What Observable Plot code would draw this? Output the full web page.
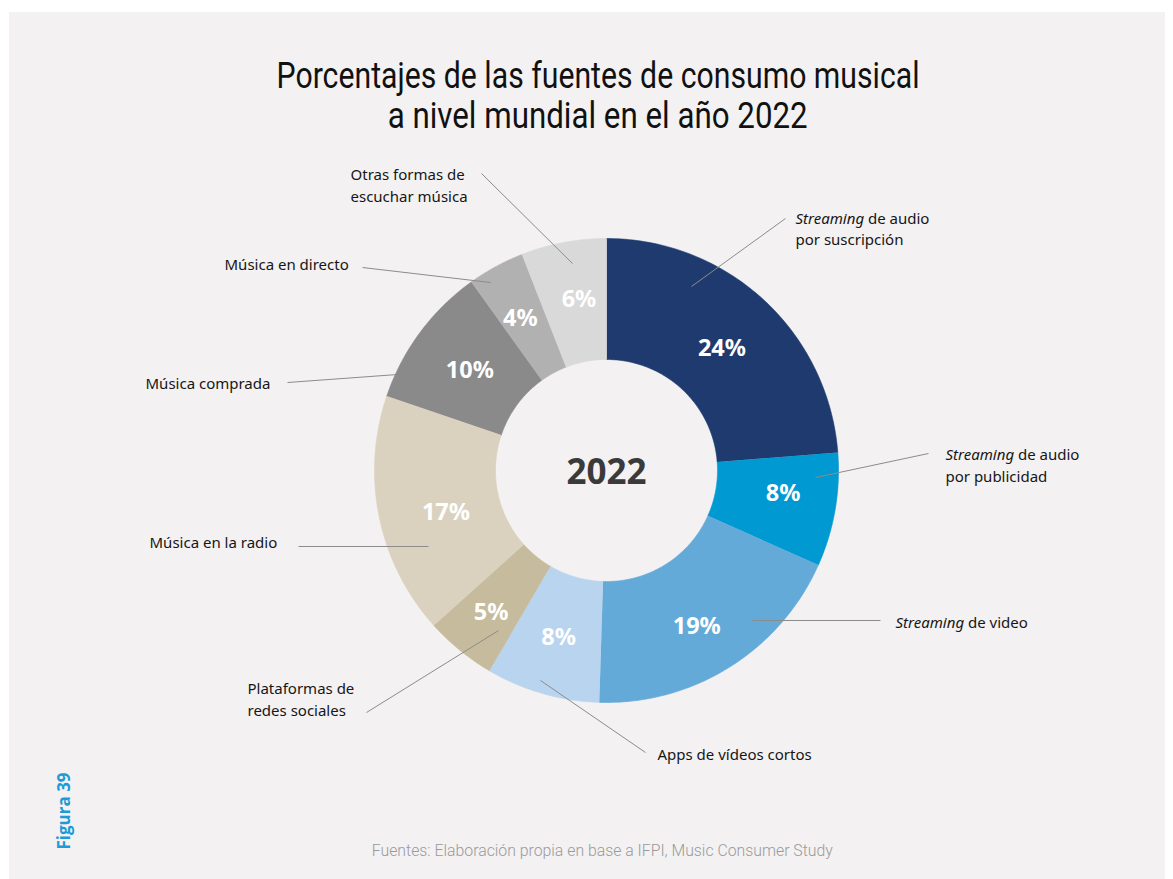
<!DOCTYPE html>
<html><head><meta charset="utf-8">
<script src="https://cdn.jsdelivr.net/npm/d3@7"></script>
<script src="https://cdn.jsdelivr.net/npm/@observablehq/plot@0.6"></script>
<style>
html,body{margin:0;padding:0;background:#fff;}
#page{position:relative;width:1173px;height:879px;overflow:hidden;}
#panel{position:absolute;left:9px;top:12px;width:1156px;height:867px;background:#f3f1f2;}
#title{position:absolute;left:0;width:1196px;top:56px;text-align:center;font-family:Roboto,"Noto Sans",sans-serif;font-weight:400;font-size:36px;line-height:40px;color:#111;}
#title span{display:inline-block;white-space:nowrap;transform-origin:50% 50%;}
#chart{position:absolute;left:0;top:140px;}
#fig{position:absolute;left:63px;top:811px;transform:translate(-50%,-50%) rotate(-90deg);font-family:"Open Sans","Noto Sans",sans-serif;font-weight:700;font-size:17px;color:#1b9bd7;white-space:nowrap;}
#source{position:absolute;left:0;width:1204px;top:841px;text-align:center;font-family:Roboto,"Noto Sans",sans-serif;font-weight:300;font-size:16px;line-height:20px;color:#9a9a9a;}
#source span{display:inline-block;white-space:nowrap;}
</style></head>
<body>
<div id="page">
  <div id="panel"></div>
  <div id="title"><span data-w="643">Porcentajes de las fuentes de consumo musical</span><br><span data-w="420">a nivel mundial en el año 2022</span></div>
  <div id="chart"></div>
  <div id="fig">Figura 39</div>
  <div id="source"><span data-w="461">Fuentes: Elaboración propia en base a IFPI, Music Consumer Study</span></div>
</div>
<script>
// ---- data ----
const categories = [
  "Streaming de audio por suscripción",
  "Streaming de audio por publicidad",
  "Streaming de video",
  "Apps de vídeos cortos",
  "Plataformas de redes sociales",
  "Música en la radio",
  "Música comprada",
  "Música en directo",
  "Otras formas de escuchar música"
];
const values = [24, 8, 19, 8, 5, 17, 10, 4, 6];
const labelTexts = [
  "Streaming de audio\npor suscripción",
  "Streaming de audio\npor publicidad",
  "Streaming de video",
  "Apps de vídeos cortos",
  "Plataformas de\nredes sociales",
  "Música en la radio",
  "Música comprada",
  "Música en directo",
  "Otras formas de\nescuchar música"
];
const colors = ["#1f3a6e","#0099d1","#64aad9","#b9d4ee","#c6bc9d","#dad2bf","#8a8a8a","#b1b1b1","#d9d9d9"];
const centerLabel = "2022";

// ---- layout (page pixel coordinates) ----
const cx = 606, cy = 470, rOuter = 232, rInner = 111, rLabel = 170;
// nudges of the percentage labels from the slice centroid
const pctNudge = [[0,3],[9,-6],[0,12],[-1,4],[-8,10],[6,8],[0,1],[-5,-3],[4,-4]];
// leader line start/end and label anchor per category
const leaderLayout = [
  {x1:691, y1:286, x2:785, y2:218, lx:795, ly:227},
  {x1:815, y1:477, x2:928, y2:453, lx:945, ly:463.5},
  {x1:752, y1:620, x2:880, y2:620, lx:895, ly:621},
  {x1:540, y1:680, x2:645, y2:752, lx:657, ly:753},
  {x1:498, y1:630, x2:366, y2:712, lx:247, ly:697.5},
  {x1:428, y1:546, x2:298, y2:546, lx:149, ly:541},
  {x1:397, y1:374, x2:287, y2:382, lx:145, ly:382},
  {x1:490, y1:282, x2:362, y2:267, lx:224, ly:263},
  {x1:572, y1:263, x2:481, y2:173, lx:350, ly:183.5}
];

const table = categories.map((c, i) => ({name: c, value: values[i], color: colors[i], label: labelTexts[i]}));
const arcs = d3.pie().sort(null).value(d => d.value)(table);
const pt = (r, a) => [cx + r * Math.sin(a), cy - r * Math.cos(a)];

const slicePoints = [];
arcs.forEach(a => {
  const n = Math.max(8, Math.ceil((a.endAngle - a.startAngle) * 60));
  for (let k = 0; k <= n; k++) {
    const t = a.startAngle + (a.endAngle - a.startAngle) * k / n;
    const [x, y] = pt(rOuter, t);
    slicePoints.push({name: a.data.name, color: a.data.color, x, y});
  }
  for (let k = n; k >= 0; k--) {
    const t = a.startAngle + (a.endAngle - a.startAngle) * k / n;
    const [x, y] = pt(rInner, t);
    slicePoints.push({name: a.data.name, color: a.data.color, x, y});
  }
});
const pctLabels = arcs.map((a, i) => {
  const m = (a.startAngle + a.endAngle) / 2;
  const [x, y] = pt(rLabel, m);
  return {x: x + pctNudge[i][0], y: y + pctNudge[i][1], text: a.data.value + "%"};
});
const leaders = table.map((d, i) => ({...leaderLayout[i], label: d.label}));

const chart = Plot.plot({
  width: 1173, height: 700,
  margin: 0,
  x: {type: "linear", domain: [0, 1173], range: [0, 1173], axis: null},
  y: {type: "linear", domain: [140, 840], range: [0, 700], axis: null},
  style: {background: "transparent", overflow: "visible"},
  marks: [
    Plot.line(slicePoints, {x: "x", y: "y", z: "name", fill: "color", stroke: "color", strokeWidth: 0.6, curve: "linear"}),
    Plot.link(leaders, {x1: "x1", y1: "y1", x2: "x2", y2: "y2", stroke: "#8c8c8c", strokeWidth: 1}),
    Plot.text(pctLabels, {x: "x", y: "y", text: "text", fill: "white", fontSize: 23.5, fontWeight: 700, fontFamily: "'Noto Sans', 'Open Sans', sans-serif"}),
    Plot.text([centerLabel], {x: () => cx, y: () => cy + 2, text: d => d, fill: "#3a3a3a", fontSize: 35, fontWeight: 700, fontFamily: "'Noto Sans', 'Open Sans', sans-serif"}),
    Plot.text(leaders, {x: "lx", y: "ly", text: "label", textAnchor: "start", lineAnchor: "middle", lineHeight: 1.45, fontSize: 15, fill: "#161616", fontFamily: "'Noto Sans', 'Open Sans', sans-serif"})
  ]
});
document.getElementById("chart").appendChild(chart);

// italic "Streaming"
chart.querySelectorAll("text, tspan").forEach(el => {
  if (el.children.length === 0 && el.textContent.startsWith("Streaming")) {
    const rest = el.textContent.slice("Streaming".length);
    el.textContent = "";
    const it = document.createElementNS("http://www.w3.org/2000/svg", "tspan");
    it.setAttribute("font-style", "italic");
    it.textContent = "Streaming";
    el.appendChild(it);
    el.appendChild(document.createTextNode(rest));
  }
});

// fit condensed-looking texts to measured widths
document.querySelectorAll("[data-w]").forEach(s => {
  const w = s.getBoundingClientRect().width;
  const target = +s.dataset.w;
  s.style.transform = `scaleX(${target / w})`;
});
</script>
</body></html>
